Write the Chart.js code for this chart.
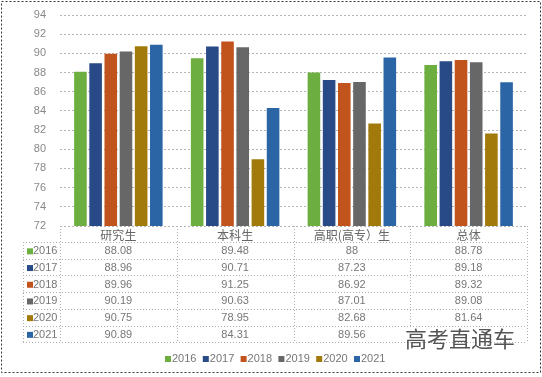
<!DOCTYPE html>
<html lang="zh">
<head>
<meta charset="UTF-8">
<script src="https://cdn.jsdelivr.net/npm/chart.js"></script>
<style>
  body { margin: 0; background: #fff; }
  #box { width: 542px; height: 377px; }
</style>
</head>
<body>
<div id="box"><canvas id="grafico" width="542" height="377"></canvas></div>
<script>
var categorias = ['研究生', '本科生', '高职(高专）生', '总体']
var anos = ['2016', '2017', '2018', '2019', '2020', '2021']
var v2016 = [88.08, 89.48, 88, 88.78]
var v2017 = [88.96, 90.71, 87.23, 89.18]
var v2018 = [89.96, 91.25, 86.92, 89.32]
var v2019 = [90.19, 90.63, 87.01, 89.08]
var v2020 = [90.75, 78.95, 82.68, 81.64]
var v2021 = [90.89, 84.31, 89.56, 87.0]
var cores = ['#6cae3f', '#284a86', '#c1531c', '#676767', '#a27a0c', '#2b65a6']

var series = [v2016, v2017, v2018, v2019, v2020, v2021]
var fonte = '"Liberation Sans", Arial, sans-serif'

// tabela de dados embaixo do grafico + legenda
var tabela = {
    id: 'tabela',
    afterDraw: function (chart) {
        var ctx = chart.ctx
        var area = chart.chartArea
        var catW = (area.right - area.left) / categorias.length
        var topo = area.bottom
        var headH = 16
        var rowH = 16.7
        var fim = topo + headH + rowH * anos.length
        var esq = 23
        ctx.save()
        ctx.strokeStyle = '#b0b0b0'
        ctx.lineWidth = 1
        ctx.setLineDash([1, 2])
        ctx.beginPath()
        for (var r = 0; r <= anos.length; r++) {
            var y = Math.round(topo + headH + r * rowH) + 0.5
            ctx.moveTo(esq, y)
            ctx.lineTo(area.right, y)
        }
        for (var c = 0; c <= categorias.length; c++) {
            var x = Math.round(area.left + c * catW) + 0.5
            ctx.moveTo(x, topo)
            ctx.lineTo(x, fim)
        }
        ctx.moveTo(esq + 0.5, topo + headH)
        ctx.lineTo(esq + 0.5, fim)
        ctx.stroke()
        ctx.setLineDash([])

        ctx.textBaseline = 'middle'
        ctx.textAlign = 'center'
        ctx.fillStyle = '#666'
        ctx.font = '12px "Noto Sans CJK SC", sans-serif'
        categorias.forEach(function (cat, i) {
            ctx.fillText(cat, area.left + catW * (i + 0.5), topo + headH / 2 + 1)
        })
        ctx.font = '11px ' + fonte
        anos.forEach(function (ano, r) {
            var yc = topo + headH + rowH * (r + 0.5) + 1
            ctx.fillStyle = cores[r]
            ctx.fillRect(esq + 4, yc - 3, 6, 6)
            ctx.fillStyle = '#777'
            ctx.textAlign = 'left'
            ctx.fillText(ano, esq + 10, yc)
            ctx.textAlign = 'center'
            series[r].forEach(function (v, i) {
                ctx.fillText(String(v), area.left + catW * (i + 0.5), yc)
            })
        })

        // legenda
        var lx = 165
        var ly = 359
        ctx.textAlign = 'left'
        anos.forEach(function (ano, i) {
            var x = lx + i * 37.8
            ctx.fillStyle = cores[i]
            ctx.fillRect(x, ly - 3, 6, 6)
            ctx.fillStyle = '#777'
            ctx.fillText(ano, x + 7, ly)
        })

        // marca d'agua
        ctx.fillStyle = '#fff'
        ctx.fillRect(410, 327, 112, 14)
        ctx.font = '22px "Noto Sans CJK SC", sans-serif'
        ctx.fillStyle = '#555'
        ctx.fillText('高考直通车', 405, 339)

        // moldura
        ctx.strokeStyle = '#333'
        ctx.setLineDash([2, 2])
        ctx.strokeRect(1.5, 1.5, 539, 371)
        ctx.restore()
    }
}

var dados = anos.map(function (ano, i) {
    return {
        label: ano,
        data: series[i],
        backgroundColor: cores[i],
        categoryPercentage: 0.78,
        barPercentage: 0.83
    }
})

new Chart(document.getElementById('grafico'), {
    type: 'bar',
    data: { labels: categorias, datasets: dados },
    options: {
        responsive: false,
        animation: false,
        layout: { padding: { top: 15, right: 15, bottom: 35, left: 0 } },
        plugins: {
            legend: { display: false },
            tooltip: { enabled: false }
        },
        scales: {
            x: {
                grid: { display: false },
                border: { display: false },
                ticks: { display: false },
                afterFit: function (scale) { scale.height = 116 }
            },
            y: {
                min: 72,
                max: 94,
                ticks: {
                    stepSize: 2,
                    padding: 14,
                    color: '#888',
                    font: { size: 11, family: fonte }
                },
                grid: { color: '#b4b4b4', drawTicks: false },
                border: { display: false, dash: [2, 2] },
                afterFit: function (scale) {
                    scale.width = 60
                    scale.paddingTop = 0
                    scale.paddingBottom = 0
                }
            }
        }
    },
    plugins: [tabela]
})
</script>
</body>
</html>
